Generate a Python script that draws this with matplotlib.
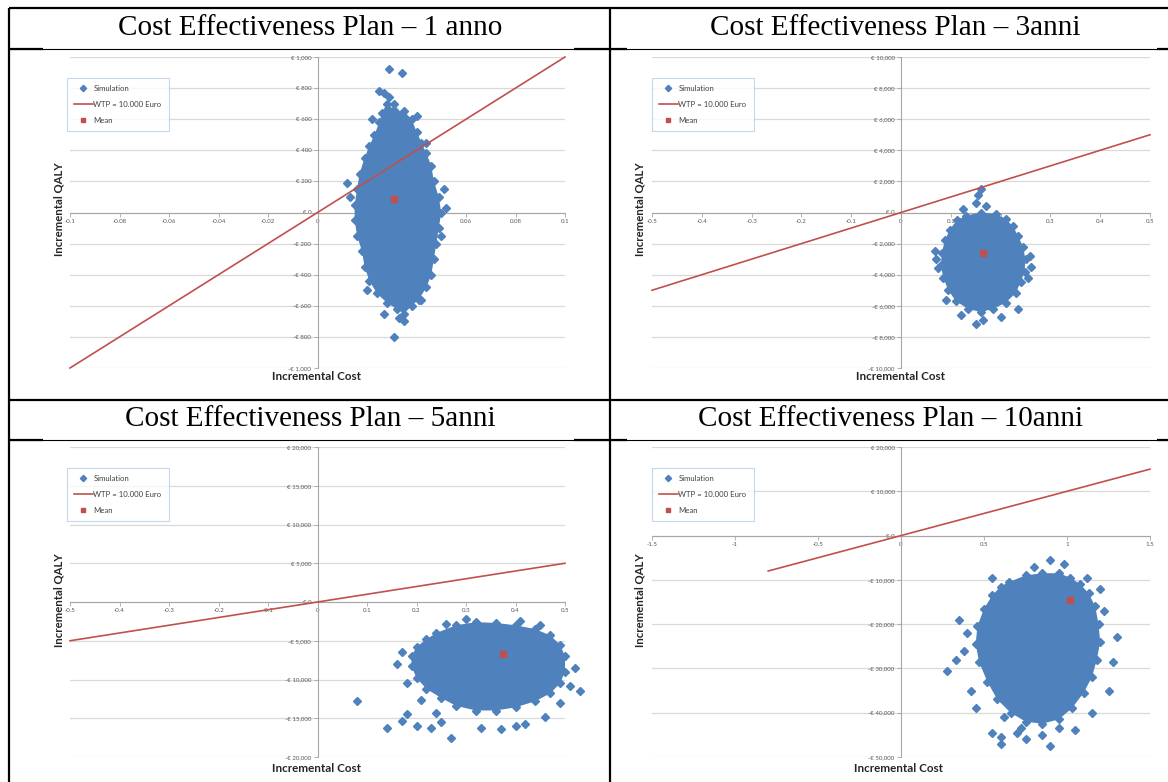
import matplotlib
matplotlib.use("Agg")
import matplotlib.pyplot as plt
from matplotlib.lines import Line2D
from matplotlib.ticker import FuncFormatter, FixedLocator

# ---------------------------------------------------------------- data
panel_titles = [
    "Cost Effectiveness Plan \u2013 1 anno",
    "Cost Effectiveness Plan \u2013 3anni",
    "Cost Effectiveness Plan \u2013 5anni",
    "Cost Effectiveness Plan \u2013 10anni",
]

legend_labels = ["Simulation", "WTP = 10.000 Euro", "Mean"]
x_title = "Incremental Cost"
y_title = "Incremental QALY"

# axis ranges and ticks per panel
x_ticks_1 = [-0.1, -0.08, -0.06, -0.04, -0.02, 0, 0.02, 0.04, 0.06, 0.08, 0.1]
x_ticks_3 = [-0.5, -0.4, -0.3, -0.2, -0.1, 0, 0.1, 0.2, 0.3, 0.4, 0.5]
x_ticks_5 = [-0.5, -0.4, -0.3, -0.2, -0.1, 0, 0.1, 0.2, 0.3, 0.4, 0.5]
x_ticks_10 = [-1.5, -1, -0.5, 0, 0.5, 1, 1.5]
x_labels_1 = ["-0.1", "-0.08", "-0.06", "-0.04", "-0.02", "0", "0.02", "0.04", "0.06", "0.08", "0.1"]
x_labels_3 = ["-0.5", "-0.4", "-0.3", "-0.2", "-0.1", "0", "0.1", "0.2", "0.3", "0.4", "0.5"]
x_labels_5 = x_labels_3
x_labels_10 = ["-1.5", "-1", "-0.5", "0", "0.5", "1", "1.5"]

y_ticks_1 = [-1000, -800, -600, -400, -200, 0, 200, 400, 600, 800, 1000]
y_ticks_3 = [-10000, -8000, -6000, -4000, -2000, 0, 2000, 4000, 6000, 8000, 10000]
y_ticks_5 = [-20000, -15000, -10000, -5000, 0, 5000, 10000, 15000, 20000]
y_ticks_10 = [-50000, -40000, -30000, -20000, -10000, 0, 10000, 20000]

# willingness-to-pay line end points
wtp_x_1 = [-0.1, 0.1]
wtp_y_1 = [-1000, 1000]
wtp_x_3 = [-0.5, 0.5]
wtp_y_3 = [-5000, 5000]
wtp_x_5 = [-0.5, 0.5]
wtp_y_5 = [-5000, 5000]
wtp_x_10 = [-0.8, 1.5]
wtp_y_10 = [-8000, 15000]

# mean of the simulations
mean_1 = (0.031, 90)
mean_3 = (0.165, -2600)
mean_5 = (0.375, -6700)
mean_10 = (1.02, -14500)

# outline of the dense simulation cloud (clockwise)
core_x_1 = [0.028, 0.031, 0.035, 0.038, 0.040, 0.042, 0.044, 0.046, 0.047, 0.049,
            0.050, 0.049, 0.048, 0.047, 0.046, 0.044, 0.041, 0.038, 0.035, 0.032,
            0.028, 0.024, 0.021, 0.019, 0.018, 0.016, 0.015, 0.015, 0.016, 0.017,
            0.019, 0.021, 0.023, 0.025, 0.026]
core_y_1 = [700, 660, 650, 600, 520, 450, 380, 300, 200, 100,
            0, -100, -200, -300, -400, -480, -560, -600, -650, -620,
            -580, -520, -440, -350, -250, -150, -50, 50, 150, 250,
            350, 430, 500, 580, 640]
# isolated simulations around the cloud
sim_x_1 = [0.029, 0.034, 0.025, 0.027, 0.029, 0.031, 0.022, 0.040, 0.044, 0.051,
           0.052, 0.013, 0.012, 0.050, 0.031, 0.035, 0.033, 0.027, 0.042, 0.020]
sim_y_1 = [920, 900, 780, 770, 740, 700, 600, 620, 450, 150,
           30, 100, 190, -150, -800, -700, -680, -650, -560, -500]

core_x_3 = [0.130, 0.160, 0.190, 0.210, 0.225, 0.235, 0.245, 0.250, 0.248, 0.240,
            0.230, 0.210, 0.185, 0.160, 0.135, 0.110, 0.095, 0.085, 0.080, 0.082,
            0.088, 0.098, 0.112]
core_y_3 = [-200, 0, -100, -400, -900, -1500, -2200, -3000, -3800, -4500,
            -5200, -5800, -6200, -6400, -6200, -5700, -5000, -4200, -3400, -2600,
            -1800, -1100, -500]
sim_x_3 = [0.160, 0.155, 0.150, 0.170, 0.125, 0.070, 0.075, 0.068, 0.260, 0.262,
           0.255, 0.150, 0.165, 0.200, 0.120, 0.235, 0.090]
sim_y_3 = [1500, 1100, 600, 400, 200, -3000, -3600, -2500, -2800, -3500,
           -4200, -7200, -6900, -6700, -6600, -6200, -5600]

core_x_5 = [0.24, 0.28, 0.32, 0.36, 0.40, 0.44, 0.47, 0.49, 0.50, 0.50,
            0.49, 0.47, 0.44, 0.40, 0.36, 0.32, 0.28, 0.25, 0.22, 0.20,
            0.19, 0.19, 0.20, 0.22]
core_y_5 = [-4000, -3000, -2600, -2700, -3000, -3500, -4300, -5500, -7000, -9000,
            -10500, -11800, -12800, -13600, -14000, -14000, -13400, -12400, -11200, -9800,
            -8300, -7000, -5800, -4800]
sim_x_5 = [0.08, 0.14, 0.18, 0.17, 0.20, 0.23, 0.25, 0.27, 0.33, 0.37,
           0.40, 0.42, 0.46, 0.17, 0.16, 0.18, 0.21, 0.24, 0.52, 0.53,
           0.51, 0.49, 0.45, 0.41, 0.30, 0.26]
sim_y_5 = [-12800, -16300, -14400, -15400, -16000, -16300, -15500, -17600, -16200, -16400,
           -16000, -15800, -14800, -6500, -8000, -10500, -12700, -14300, -8500, -11500,
           -10800, -13000, -3000, -2400, -2200, -2800]

core_x_10 = [0.65, 0.75, 0.85, 0.95, 1.02, 1.08, 1.13, 1.17, 1.19, 1.20,
             1.18, 1.15, 1.10, 1.03, 0.95, 0.85, 0.75, 0.66, 0.58, 0.52,
             0.47, 0.45, 0.46, 0.50, 0.55, 0.60]
core_y_10 = [-10500, -9000, -8500, -8500, -9500, -11000, -13000, -16000, -20000, -24000,
             -28000, -32000, -35500, -39000, -41500, -42500, -42000, -40000, -37000, -33000,
             -28500, -24500, -20500, -16500, -13500, -11500]
sim_x_10 = [0.28, 0.33, 0.38, 0.42, 0.45, 0.55, 0.60, 0.60, 0.70, 0.75,
            0.85, 0.90, 1.05, 1.15, 1.25, 1.28, 1.30, 1.22, 1.20, 1.12,
            0.98, 0.90, 0.80, 0.55, 0.35, 0.40, 0.62, 0.72, 0.95]
sim_y_10 = [-30500, -28000, -26000, -35000, -39000, -44500, -45500, -47000, -44500, -46000,
            -45000, -47500, -44000, -40000, -35000, -28500, -23000, -17000, -12000, -9500,
            -6500, -5500, -7000, -9500, -19000, -22000, -41000, -43500, -43500]

# ---------------------------------------------------------------- style
W, H = 1168, 782
BLUE = "#4F81BD"
RED = "#C0504D"
GRID = "#D9D9D9"
AXIS = "#A6A6A6"
TICKTXT = "#595959"
SANS = ["Lato", "DejaVu Sans"]
SERIF = ["Liberation Serif", "DejaVu Serif"]

fig = plt.figure(figsize=(W / 100, H / 100), dpi=100)
fig.patch.set_facecolor("white")


def px_rect(x0, y0, x1, y1):
    return [x0 / W, 1 - y1 / H, (x1 - x0) / W, (y1 - y0) / H]


def fx(x):
    return x / W


def fy(y):
    return 1 - y / H


def euro(v, _pos=None):
    s = "\u20ac {:,.0f}".format(abs(v))
    return "-" + s if v < 0 else s


panels = [
    dict(rect=(70, 57, 565, 368), xt=x_ticks_1, xl=x_labels_1, yt=y_ticks_1,
         wx=wtp_x_1, wy=wtp_y_1, mean=mean_1, cx=core_x_1, cy=core_y_1,
         sx=sim_x_1, sy=sim_y_1, title=panel_titles[0], tpos=(310, 28),
         leg=(67, 78), ylab=(59, 209), xlab=(317, 377)),
    dict(rect=(652, 57, 1150, 368), xt=x_ticks_3, xl=x_labels_3, yt=y_ticks_3,
         wx=wtp_x_3, wy=wtp_y_3, mean=mean_3, cx=core_x_3, cy=core_y_3,
         sx=sim_x_3, sy=sim_y_3, title=panel_titles[1], tpos=(895, 28),
         leg=(652, 78), ylab=(640, 209), xlab=(900, 377)),
    dict(rect=(70, 447, 565, 757), xt=x_ticks_5, xl=x_labels_5, yt=y_ticks_5,
         wx=wtp_x_5, wy=wtp_y_5, mean=mean_5, cx=core_x_5, cy=core_y_5,
         sx=sim_x_5, sy=sim_y_5, title=panel_titles[2], tpos=(310, 419),
         leg=(67, 468), ylab=(59, 600), xlab=(316, 768)),
    dict(rect=(652, 447, 1150, 757), xt=x_ticks_10, xl=x_labels_10, yt=y_ticks_10,
         wx=wtp_x_10, wy=wtp_y_10, mean=mean_10, cx=core_x_10, cy=core_y_10,
         sx=sim_x_10, sy=sim_y_10, title=panel_titles[3], tpos=(891, 419),
         leg=(652, 468), ylab=(640, 600), xlab=(899, 768)),
]

for p in panels:
    ax = fig.add_axes(px_rect(*p["rect"]))
    ax.set_facecolor("none")
    ax.set_xlim(p["xt"][0], p["xt"][-1])
    ax.set_ylim(p["yt"][0], p["yt"][-1])

    # axes crossing at the origin
    for side in ("top", "right"):
        ax.spines[side].set_visible(False)
    ax.spines["left"].set_position(("data", 0))
    ax.spines["bottom"].set_position(("data", 0))
    for side in ("left", "bottom"):
        ax.spines[side].set_color(AXIS)
        ax.spines[side].set_linewidth(0.8)

    ax.xaxis.set_major_locator(FixedLocator(p["xt"]))
    ax.set_xticklabels(p["xl"])
    ax.yaxis.set_major_locator(FixedLocator(p["yt"]))
    ax.yaxis.set_major_formatter(FuncFormatter(euro))
    ax.tick_params(axis="both", length=3, width=0.6, color=AXIS, labelsize=4.4,
                   labelcolor=TICKTXT, pad=1.5)
    for lab in ax.get_xticklabels() + ax.get_yticklabels():
        lab.set_family(SANS)

    ax.yaxis.grid(True, color=GRID, linewidth=0.9)
    ax.set_axisbelow(True)

    # simulation cloud
    ax.fill(p["cx"], p["cy"], color=BLUE, linewidth=0, zorder=3)
    ax.plot(p["cx"], p["cy"], linestyle="none", marker="D", ms=3.6,
            color=BLUE, zorder=3, clip_on=False)
    ax.plot(p["sx"], p["sy"], linestyle="none", marker="D", ms=3.6,
            color=BLUE, zorder=3, clip_on=False)

    # WTP threshold
    ax.plot(p["wx"], p["wy"], color=RED, linewidth=1.2, zorder=4, clip_on=False)

    # mean
    ax.plot([p["mean"][0]], [p["mean"][1]], linestyle="none", marker="s", ms=3.8,
            color=RED, zorder=5)

    handles = [
        Line2D([], [], linestyle="none", marker="D", ms=3.2, color=BLUE),
        Line2D([], [], color=RED, linewidth=1.2),
        Line2D([], [], linestyle="none", marker="s", ms=3.4, color=RED),
    ]
    leg = ax.legend(handles, legend_labels, loc="upper left",
                    bbox_to_anchor=(fx(p["leg"][0]), fy(p["leg"][1])),
                    bbox_transform=fig.transFigure, prop={"family": SANS, "size": 5.6},
                    frameon=True, fancybox=False, edgecolor="#B9CDE5",
                    borderpad=0.9, labelspacing=1.15, handlelength=2.4,
                    handletextpad=0.1, borderaxespad=0)
    leg.get_frame().set_linewidth(0.8)
    for t in leg.get_texts():
        t.set_color("#404040")

    fig.text(fx(p["ylab"][0]), fy(p["ylab"][1]), y_title, rotation=90,
             ha="center", va="center", fontsize=8.2, fontweight="bold",
             family=SANS, color="#262626")
    fig.text(fx(p["xlab"][0]), fy(p["xlab"][1]), x_title,
             ha="center", va="center", fontsize=8.4, fontweight="bold",
             family=SANS, color="#262626")
    fig.text(fx(p["tpos"][0]), fy(p["tpos"][1]), p["title"],
             ha="center", va="center", fontsize=21, family=SERIF, color="black")

# ---------------------------------------------------------------- table rules
THICK = 1.6
THIN = 0.8


def hline(y, x0, x1, lw):
    fig.add_artist(Line2D([fx(x0), fx(x1)], [fy(y), fy(y)], color="black",
                          linewidth=lw, solid_capstyle="butt"))


def vline(x, y0, y1, lw):
    fig.add_artist(Line2D([fx(x), fx(x)], [fy(y0), fy(y1)], color="black",
                          linewidth=lw, solid_capstyle="butt"))


hline(8, 9, W, THICK)
hline(400, 9, W, THICK)
for yy in (49, 440):
    hline(yy, 9, W, THIN)
    hline(yy, 9, 43, THICK)
    hline(yy, 574, 627, THICK)
    hline(yy, 1157, W, THICK)
vline(9, 8, H, THICK)
vline(610, 8, H, THICK)

fig.savefig("out.png", dpi=100, facecolor="white")
